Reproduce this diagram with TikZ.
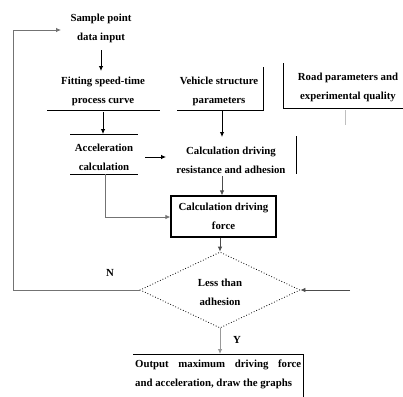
\documentclass[tikz,border=0pt]{standalone}
\usepackage{fontspec}
\setmainfont{Liberation Serif}
\usetikzlibrary{shapes.geometric,arrows.meta}
\begin{document}
\begin{tikzpicture}[x=1pt,y=-1pt,
  lbl/.style={font=\bfseries\fontsize{10.8}{19}\selectfont,align=center,inner sep=0pt},
  edge/.style={line width=0.6pt},
  conn/.style={line width=0.8pt,draw=black!55,-{Latex[length=5pt,width=4.5pt]}},
  connk/.style={line width=0.9pt,draw=black,-{Latex[length=5pt,width=4.5pt]}},
  ln/.style={line width=0.8pt,draw=black!55}]
\useasboundingbox (0,0) rectangle (403,396);
% nodes
\node[lbl] (sample) at (101,28) {Sample point\\data input};
\node[lbl] (fit) at (103,91) {Fitting speed-time\\process curve};
\node[lbl] (veh) at (219,91) {Vehicle structure\\parameters};
\node[lbl] (road) at (348,87) {Road parameters and\\experimental quality};
\node[lbl] (acc) at (104,157) {Acceleration\\calculation};
\node[lbl] (res) at (231,160) {Calculation driving\\resistance and adhesion};
\node[lbl,draw,line width=1.2pt,minimum width=105pt,minimum height=41pt] (force) at (223.5,216.5) {Calculation driving\\force};
\node[diamond,draw,dotted,line width=0.8pt,minimum width=160pt,minimum height=76pt,inner sep=0pt,aspect=2.1] (dec) at (220,290) {};
\node[lbl] at (220,292) {Less than\\adhesion};
\node[lbl,anchor=north west] (out) at (135,360) {\makebox[166pt][s]{Output maximum driving force}\\\makebox[166pt][l]{and acceleration, draw the graphs}};
\node[lbl] (nlab) at (110,273) {N};
\node[lbl] (ylab) at (237,340) {Y};
% partial borders
\coordinate (fitbl) at (47,110); \coordinate (fitbr) at (160,110);
\draw[edge] (fitbl) -- (fitbr);
\coordinate (vbl) at (177,110); \coordinate (vbr) at (263,110); \coordinate (vtr) at (263,67);
\draw[edge] (vbl) -- (vbr) -- (vtr);
\coordinate (rtl) at (283,63); \coordinate (rbl) at (283,108); \coordinate (rbr) at (403,108);
\draw[edge] (rtl) -- (rbl) -- (rbr);
\coordinate (atl) at (70,134); \coordinate (atr) at (138,134);
\coordinate (abl) at (70,174); \coordinate (abr) at (138,174);
\draw[edge] (atl) -- (atr); \draw[edge] (abl) -- (abr);
\coordinate (rstt) at (296,136); \coordinate (rstb) at (296,174);
\draw[edge] (rstt) -- (rstb);
\coordinate (otl) at (133,354); \coordinate (otr) at (303,354); \coordinate (obr) at (303,400);
\draw[line width=1pt] (otl) -- (otr) -- (obr);
% connectors
\coordinate (s1) at (101,50); \coordinate (s2) at (101,71);
\draw[conn,draw=black] (s1) -- (s2);
\coordinate (f1) at (103,112); \coordinate (f2) at (103,134);
\draw[conn,draw=black] (f1) -- (f2);
\coordinate (a1) at (145,157); \coordinate (a2) at (166,157);
\draw[conn,draw=black] (a1) -- (a2);
\coordinate (v1) at (222,110); \coordinate (v2) at (222,137);
\draw[connk] (v1) -- (v2);
\coordinate (r1) at (222,176);
\draw[conn,draw=black!70] (r1) -- (force.north -| r1);
\coordinate (ad) at (105,174); \coordinate (ac) at (105,217);
\draw[conn] (ad) -- (ac) -- (force.west |- ac);
\draw[conn,draw=black!70] (force.south -| dec.north) -- (dec.north);
\draw[conn,draw=black!40] (dec.south) -- (dec.south |- otl);
\coordinate (lc) at (13,290); \coordinate (lt) at (13,30); \coordinate (la) at (61,30);
\draw[conn] (dec.west) -- (lc) -- (lt) -- (la);
\coordinate (rin) at (350,290);
\draw[conn,draw=black!70] (rin) -- (dec.east);
\coordinate (st1) at (345,110); \coordinate (st2) at (345,125);
\draw[ln,draw=black!25] (st1) -- (st2);
\end{tikzpicture}
\end{document}
